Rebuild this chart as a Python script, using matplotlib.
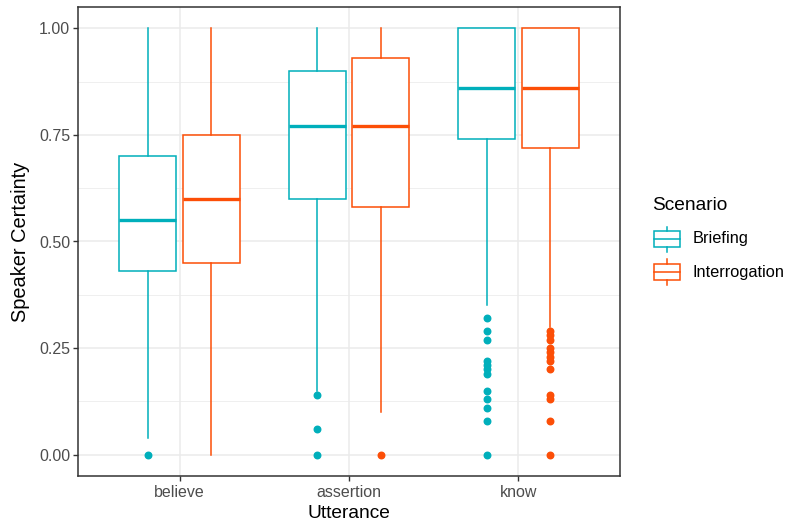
import matplotlib
matplotlib.use("Agg")
import matplotlib.pyplot as plt
from matplotlib.patches import Rectangle
from matplotlib.lines import Line2D

plt.rcParams["font.family"] = ["Liberation Sans", "DejaVu Sans"]

categories = ["believe", "assertion", "know"]
scenarios = ["Briefing", "Interrogation"]
colors = {"Briefing": "#00AFBB", "Interrogation": "#FC4E07"}

# per scenario, per category
q1 = {"Briefing": [0.43, 0.60, 0.74], "Interrogation": [0.45, 0.58, 0.72]}
med = {"Briefing": [0.55, 0.77, 0.86], "Interrogation": [0.60, 0.77, 0.86]}
q3 = {"Briefing": [0.70, 0.90, 1.00], "Interrogation": [0.75, 0.93, 1.00]}
whislo = {"Briefing": [0.04, 0.15, 0.35], "Interrogation": [0.00, 0.10, 0.30]}
whishi = {"Briefing": [1.00, 1.00, 1.00], "Interrogation": [1.00, 1.00, 1.00]}
fliers = {
    "Briefing": [
        [0.0],
        [0.14, 0.06, 0.0],
        [0.32, 0.29, 0.27, 0.22, 0.21, 0.20, 0.19, 0.15, 0.13, 0.11, 0.08, 0.0],
    ],
    "Interrogation": [
        [],
        [0.0],
        [0.29, 0.28, 0.27, 0.25, 0.24, 0.23, 0.22, 0.20, 0.14, 0.13, 0.08, 0.0],
    ],
}

W, H = 788, 525
fig = plt.figure(figsize=(W/100, H/100), dpi=100)
PL, PR, PT, PB = 78, 620, 7, 476
ax = fig.add_axes([PL/W, 1-PB/H, (PR-PL)/W, (PB-PT)/H])

offsets = {"Briefing": -0.1875, "Interrogation": 0.1875}
for s in scenarios:
    stats = []
    for i in range(len(categories)):
        stats.append(dict(q1=q1[s][i], med=med[s][i], q3=q3[s][i],
                          whislo=whislo[s][i], whishi=whishi[s][i],
                          fliers=fliers[s][i]))
    pos = [i + 1 + offsets[s] for i in range(len(categories))]
    c = colors[s]
    ax.bxp(stats, positions=pos, widths=0.3375, showcaps=False,
           patch_artist=True, manage_ticks=False,
           boxprops=dict(facecolor="white", edgecolor=c, linewidth=1.1),
           whiskerprops=dict(color=c, linewidth=1.1),
           medianprops=dict(color=c, linewidth=2.4, solid_capstyle="butt"),
           flierprops=dict(marker="o", markerfacecolor=c, markeredgecolor=c,
                           markersize=4.7, linestyle="none"),
           zorder=3)

ax.set_xlim(0.4, 3.6)
ax.set_ylim(-0.05, 1.05)
ax.set_xticks([1, 2, 3])
ax.set_xticklabels(categories)
ax.set_yticks([0, 0.25, 0.5, 0.75, 1.0])
ax.set_yticklabels(["0.00", "0.25", "0.50", "0.75", "1.00"])
ax.set_yticks([0.125, 0.375, 0.625, 0.875], minor=True)
ax.grid(True, which="major", color="#EBEBEB", linewidth=1.1, zorder=0)
ax.grid(True, which="minor", axis="y", color="#EBEBEB", linewidth=0.55, zorder=0)
ax.set_axisbelow(True)
for sp in ax.spines.values():
    sp.set_color("#333333")
    sp.set_linewidth(1.1)
ax.tick_params(axis="both", which="major", colors="#333333", labelcolor="#4D4D4D",
               labelsize=11.5, length=3.5, width=1.0, pad=2)
ax.tick_params(axis="x", which="major", pad=3.2)
ax.tick_params(axis="y", which="minor", length=0)

# axis titles
fig.text((PL+PR)/2/W, 1-514/H, "Utterance", ha="center", va="center",
         fontsize=13.8, color="black")
fig.text(20.5/W, 1-(PT+PB)/2/H, "Speaker Certainty", ha="center", va="center",
         rotation=90, fontsize=14.4, color="black")

# legend drawn manually in pixel coordinates
def px(x, y):
    return x/W, 1-y/H

fig.text(*px(652, 206), "Scenario", ha="left", va="center", fontsize=13.8,
         color="black")
row_y = [239, 272]
kx0, kx1 = 654, 680
for s, yc in zip(scenarios, row_y):
    c = colors[s]
    x0, y0 = px(kx0, yc + 8)
    x1, y1 = px(kx1, yc - 8)
    fig.add_artist(Rectangle((x0, y0), x1-x0, y1-y0, transform=fig.transFigure,
                             facecolor="white", edgecolor=c, linewidth=1.1))
    xm = (kx0 + kx1) / 2
    fig.add_artist(Line2D([x0, x1], [px(0, yc)[1]]*2, transform=fig.transFigure,
                          color=c, linewidth=1.1))
    fig.add_artist(Line2D([xm/W]*2, [px(0, yc-8)[1], px(0, yc-12.5)[1]],
                          transform=fig.transFigure, color=c, linewidth=1.1))
    fig.add_artist(Line2D([xm/W]*2, [px(0, yc+8)[1], px(0, yc+13)[1]],
                          transform=fig.transFigure, color=c, linewidth=1.1))
    fig.text(*px(693, yc), s, ha="left", va="center", fontsize=11.8,
             color="black")

fig.savefig("out.png", dpi=100)
